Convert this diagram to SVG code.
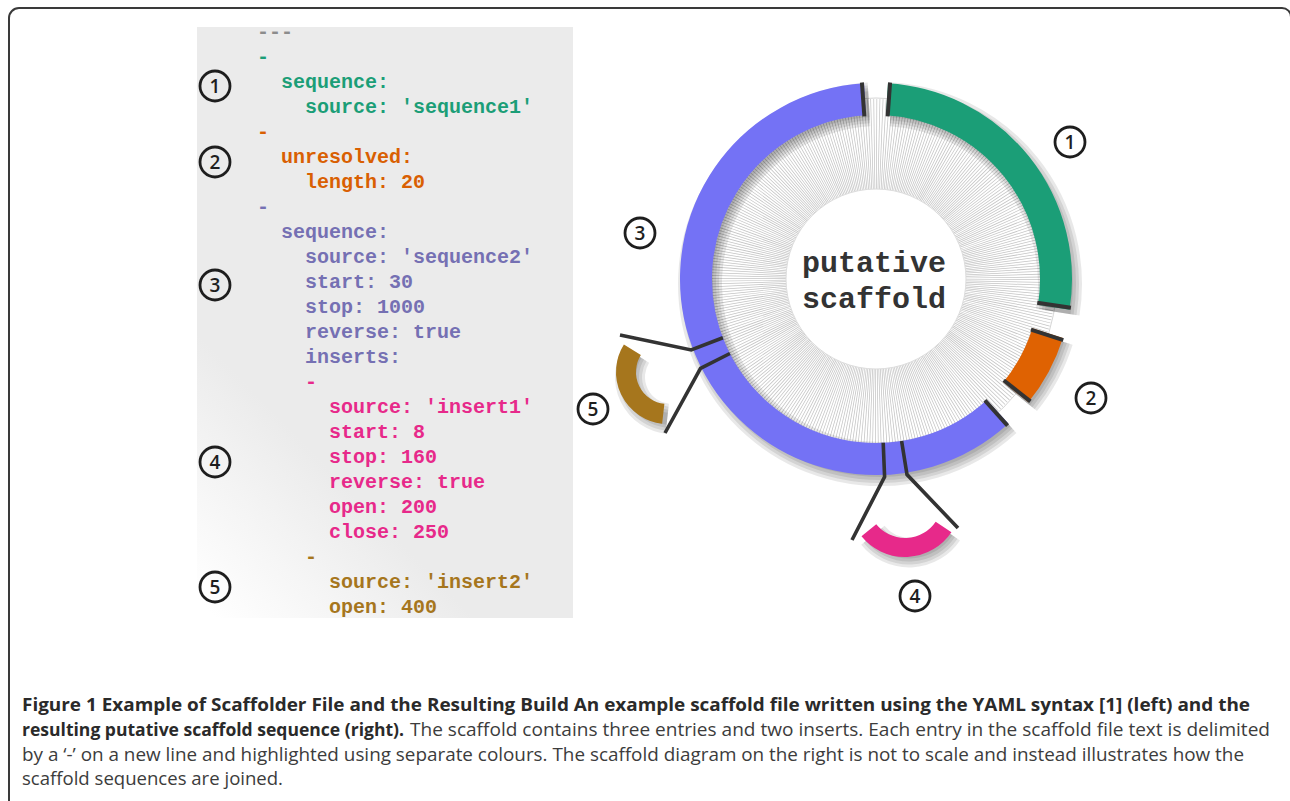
<svg xmlns="http://www.w3.org/2000/svg" width="1290" height="801" viewBox="0 0 1290 801">
<style>
.code{font-family:"Liberation Mono","Courier New",monospace;font-weight:bold;font-size:20px}
.g{fill:#1b9e77}.o{fill:#d95f02}.p{fill:#7570b3}.k{fill:#e7298a}.b{fill:#a6761d}.gr{fill:#8c8c8c}
.num circle{fill:none;stroke:#1e1e1e;stroke-width:2.8}
.num text{font-family:"Open Sans","DejaVu Sans",sans-serif;font-weight:600;font-size:19px;fill:#1e1e1e;text-anchor:middle}
.seg{fill:none;stroke-width:32;stroke-linecap:butt}
.cap{stroke:#333;stroke-width:4;stroke-linecap:butt}
.conn{fill:none;stroke:#333;stroke-width:3.6}
.s1{fill:none;stroke:#000;stroke-opacity:0.09}
.cb{font-family:"Open Sans","DejaVu Sans",sans-serif;font-weight:bold;font-size:17.5px;fill:#2a2a2a}
.cr{font-family:"Open Sans","DejaVu Sans",sans-serif;font-weight:normal;font-size:17.5px;fill:#3c3c3c}
.center{font-family:"Liberation Mono","Courier New",monospace;font-weight:bold;font-size:30px;fill:#333;text-anchor:middle}
</style>
<defs>
<linearGradient id="panelGrad" gradientUnits="userSpaceOnUse" x1="197" y1="600" x2="330" y2="470">
<stop offset="0" stop-color="#ffffff"/>
<stop offset="1" stop-color="#ebebeb"/>
</linearGradient>
<path id="a1" d="M886.99 99.34 A180 180 0 0 1 1053.78 307.16"/>
<path id="a2" d="M1047.67 333.13 A180 180 0 0 1 1015.89 392.28"/>
<path id="a3" d="M997.61 411.71 A180 180 0 1 1 865.01 99.34"/>
<path id="a4" d="M943.55 527.00 A46.5 46.5 0 0 1 868.86 530.26"/>
<path id="a5" d="M663.25 413.73 A42 42 0 0 1 632.38 349.74"/>
</defs>
<rect width="1290" height="801" fill="#fff"/>
<!-- frame -->
<path d="M9 820 V18 A10 10 0 0 1 19 8 H1282 A9 9 0 0 1 1291 17 V820" fill="none" stroke="#3a3a3a" stroke-width="2"/>

<!-- code panel -->
<g id="code-panel">
<rect x="197" y="27" width="376" height="591" fill="url(#panelGrad)"/>
<text class="code gr" x="257" y="38">---</text>
<text class="code g" x="257" y="63">-</text>
<text class="code g" x="281" y="88">sequence:</text>
<text class="code g" x="305" y="113">source: 'sequence1'</text>
<text class="code o" x="257" y="138">-</text>
<text class="code o" x="281" y="163">unresolved:</text>
<text class="code o" x="305" y="188">length: 20</text>
<text class="code p" x="257" y="213">-</text>
<text class="code p" x="281" y="238">sequence:</text>
<text class="code p" x="305" y="263">source: 'sequence2'</text>
<text class="code p" x="305" y="288">start: 30</text>
<text class="code p" x="305" y="313">stop: 1000</text>
<text class="code p" x="305" y="338">reverse: true</text>
<text class="code p" x="305" y="363">inserts:</text>
<text class="code k" x="305" y="388">-</text>
<text class="code k" x="329" y="413">source: 'insert1'</text>
<text class="code k" x="329" y="438">start: 8</text>
<text class="code k" x="329" y="463">stop: 160</text>
<text class="code k" x="329" y="488">reverse: true</text>
<text class="code k" x="329" y="513">open: 200</text>
<text class="code k" x="329" y="538">close: 250</text>
<text class="code b" x="305" y="563">-</text>
<text class="code b" x="329" y="588">source: 'insert2'</text>
<text class="code b" x="329" y="613">open: 400</text>
</g>

<!-- left markers -->
<g id="label-left-1" class="num"><circle cx="215" cy="86" r="15"/><text x="215" y="92.5">1</text></g>
<g id="label-left-2" class="num"><circle cx="215" cy="162" r="15"/><text x="215" y="168.5">2</text></g>
<g id="label-left-3" class="num"><circle cx="215" cy="285" r="15"/><text x="215" y="291.5">3</text></g>
<g id="label-left-4" class="num"><circle cx="215" cy="462" r="15"/><text x="215" y="468.5">4</text></g>
<g id="label-left-5" class="num"><circle cx="215" cy="587" r="15"/><text x="215" y="593.5">5</text></g>

<!-- scaffold hub -->
<g id="scaffold-hub">
<circle cx="876" cy="279" r="181" fill="none" stroke="#d6d6d6" stroke-width="1"/>
<circle cx="876" cy="279" r="135" fill="none" stroke="#c4c4c4" stroke-width="90" stroke-dasharray="0.75 1.6062"/>
<circle cx="876" cy="279" r="90" fill="#fff" stroke="#dcdcdc" stroke-width="1"/>
<text class="center" x="874" y="272">putative</text>
<text class="center" x="874" y="308">scaffold</text>
</g>

<!-- soft shadows -->
<g id="shadows" transform="translate(4 5)">
<g stroke-width="44"><use href="#a1" class="s1"/><use href="#a2" class="s1"/><use href="#a3" class="s1"/></g>
<g stroke-width="38"><use href="#a1" class="s1"/><use href="#a2" class="s1"/><use href="#a3" class="s1"/></g>
<g stroke-width="32"><use href="#a1" class="s1"/><use href="#a2" class="s1"/><use href="#a3" class="s1"/></g>
<g stroke-width="26"><use href="#a1" class="s1"/><use href="#a2" class="s1"/><use href="#a3" class="s1"/></g>
<g stroke-width="30"><use href="#a4" class="s1"/><use href="#a5" class="s1"/></g>
<g stroke-width="24"><use href="#a4" class="s1"/><use href="#a5" class="s1"/></g>
<g stroke-width="18"><use href="#a4" class="s1"/><use href="#a5" class="s1"/></g>
<g stroke-width="12"><use href="#a4" class="s1"/><use href="#a5" class="s1"/></g>
</g>

<!-- entry 1 -->
<g id="entry-1">
<use href="#a1" class="seg" stroke="#1b9e77"/>
<line class="cap" x1="887.65" y1="116.42" x2="890.09" y2="82.50"/>
<line class="cap" x1="1037.25" y1="302.81" x2="1070.89" y2="307.78"/>
</g>
<!-- entry 2 -->
<g id="entry-2">
<use href="#a2" class="seg" stroke="#df6202"/>
<line class="cap" x1="1030.93" y1="329.64" x2="1063.25" y2="340.20"/>
<line class="cap" x1="1003.74" y1="380.25" x2="1030.39" y2="401.37"/>
</g>
<!-- entry 3 -->
<g id="entry-3">
<use href="#a3" class="seg" stroke="#7472f5"/>
<line class="cap" x1="984.86" y1="400.32" x2="1007.56" y2="425.63"/>
<line class="cap" x1="864.35" y1="116.42" x2="861.91" y2="82.50"/>
</g>
<!-- insert 4 -->
<g id="insert-4">
<use href="#a4" fill="none" stroke="#e7298a" stroke-width="19"/>
</g>
<!-- insert 5 -->
<g id="insert-5">
<use href="#a5" fill="none" stroke="#a6761d" stroke-width="20"/>
</g>

<!-- connectors -->
<g id="connectors">
<polyline class="conn" points="722.9,337.8 691.2,350.0 620,335"/>
<polyline class="conn" points="729.9,353.5 700.5,368.4 665,433"/>
<polyline class="conn" points="883.2,442.8 884.6,476.8 852,540"/>
<polyline class="conn" points="901.6,441.0 907.0,474.6 958,528"/>
</g>

<!-- right markers -->
<g id="label-right-1" class="num"><circle cx="1070" cy="142" r="15"/><text x="1070" y="148.5">1</text></g>
<g id="label-right-2" class="num"><circle cx="1091" cy="398" r="15"/><text x="1091" y="404.5">2</text></g>
<g id="label-right-3" class="num"><circle cx="640" cy="233" r="15"/><text x="640" y="239.5">3</text></g>
<g id="label-right-4" class="num"><circle cx="915" cy="596" r="15"/><text x="915" y="602.5">4</text></g>
<g id="label-right-5" class="num"><circle cx="593" cy="409" r="15"/><text x="593" y="415.5">5</text></g>

<!-- caption -->
<g id="caption">
<text class="cb" x="22" y="711" textLength="1228" lengthAdjust="spacingAndGlyphs">Figure 1 Example of Scaffolder File and the Resulting Build An example scaffold file written using the YAML syntax [1] (left) and the</text>
<text class="cb" x="22" y="736" textLength="382" lengthAdjust="spacingAndGlyphs">resulting putative scaffold sequence (right).</text>
<text class="cr" x="410" y="736" textLength="860" lengthAdjust="spacingAndGlyphs">The scaffold contains three entries and two inserts. Each entry in the scaffold file text is delimited</text>
<text class="cr" x="22" y="761" textLength="1222" lengthAdjust="spacingAndGlyphs">by a ‘-’ on a new line and highlighted using separate colours. The scaffold diagram on the right is not to scale and instead illustrates how the</text>
<text class="cr" x="22" y="785" textLength="261" lengthAdjust="spacingAndGlyphs">scaffold sequences are joined.</text>
</g>
</svg>
